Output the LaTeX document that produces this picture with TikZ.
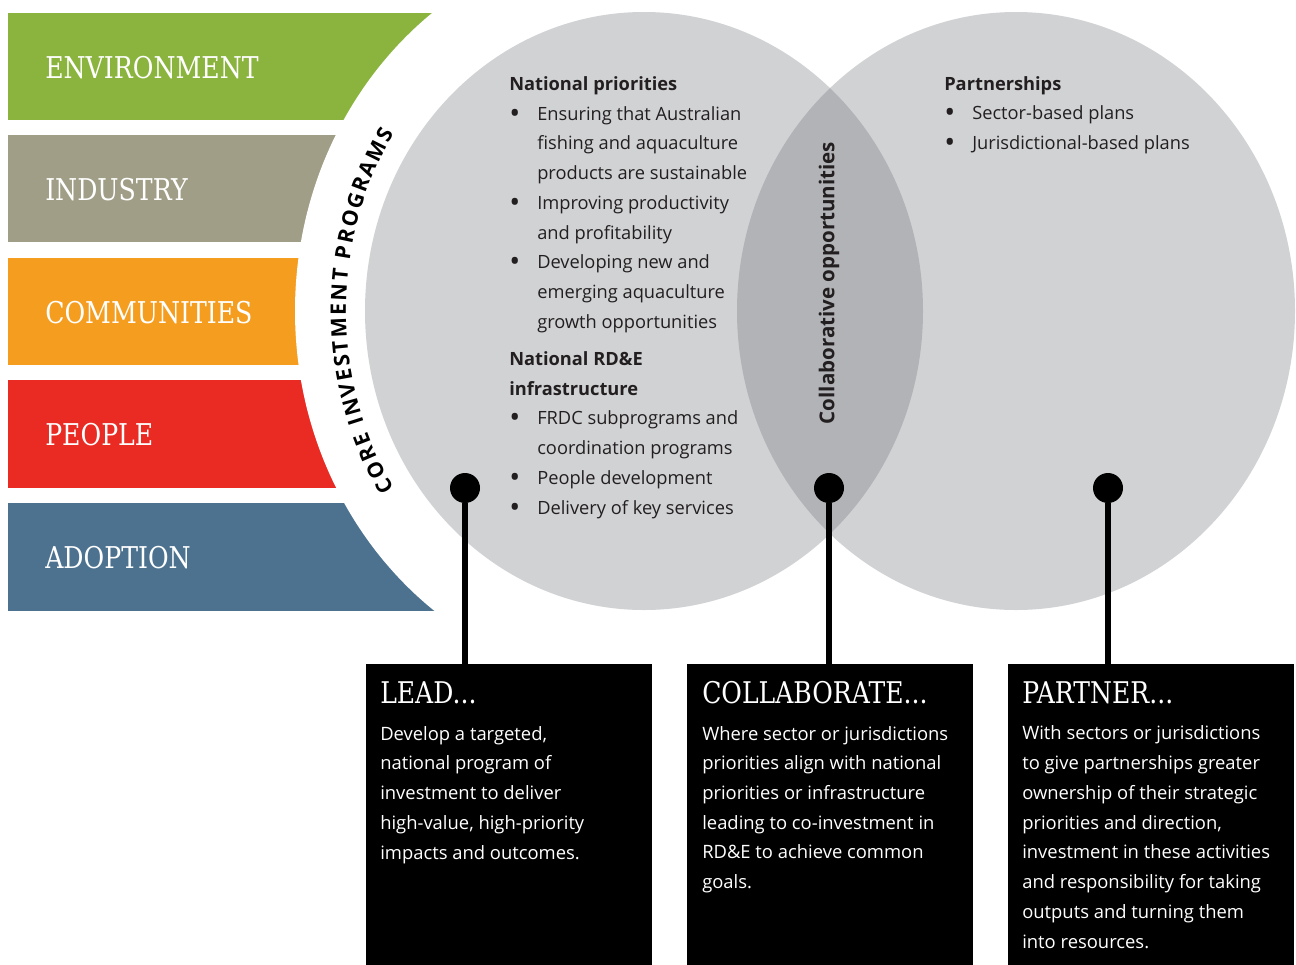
\documentclass[tikz,border=0pt]{standalone}
\usepackage{fontspec}
\setmainfont{Open Sans}
\newfontfamily\slab[FakeStretch=0.84]{DejaVu Serif}
\usetikzlibrary{decorations.text}
\definecolor{cenv}{HTML}{8BB43E}
\definecolor{cind}{HTML}{A09E86}
\definecolor{ccom}{HTML}{F59D1E}
\definecolor{cpeo}{HTML}{E92B24}
\definecolor{cado}{HTML}{4C7290}
\definecolor{cgrey}{HTML}{D1D2D4}
\definecolor{clens}{HTML}{B2B3B6}
\definecolor{ctext}{HTML}{231F20}
\newcommand\bitem{\makebox[21pt][l]{\hspace*{0pt}\raisebox{-0.32ex}{\scalebox{1.6}{\textbullet}}}}
\newcommand\bind{\hspace*{21pt}}
\newcommand\arcfont{\fontsize{16}{16}\selectfont\bfseries}
\begin{document}
\begin{tikzpicture}[x=0.75pt,y=-0.75pt,
  bandlabel/.style={anchor=west, inner sep=0pt, text=white, font=\slab\fontsize{22.5}{24}\selectfont},
  headlabel/.style={anchor=base west, inner sep=0pt, text=white, font=\slab\fontsize{22.4}{24}\selectfont},
  bodytext/.style={anchor=base west, inner sep=0pt, text=white, align=left, font=\fontsize{13.8}{22.3}\selectfont},
  circtext/.style={anchor=base west, inner sep=0pt, text=ctext, align=left, font=\fontsize{13.7}{22.3}\selectfont},
  dot/.style={circle, fill=black, minimum size=22.5pt, inner sep=0pt},
  blackbox/.style={rectangle, fill=black, anchor=north west, minimum width=214pt, minimum height=226pt, inner sep=0pt},
  conn/.style={line width=5.2pt, black}
]
\useasboundingbox (0,0) rectangle (1296,964);
\fill[white] (0,0) rectangle (1296,964);
% bands
\fill[cenv] (8,13) rectangle (470,120);
\fill[cind] (8,135) rectangle (470,242);
\fill[ccom] (8,258) rectangle (470,365);
\fill[cpeo] (8,380) rectangle (470,488);
\fill[cado] (8,503) rectangle (470,611);
\fill[white] (644,311) ellipse [x radius=349, y radius=375];
% circles
\fill[cgrey] (644,311) ellipse [x radius=279, y radius=299];
\fill[cgrey] (1016,311) ellipse [x radius=279, y radius=299];
\begin{scope}
  \clip (644,311) ellipse [x radius=279, y radius=299];
  \fill[clens] (1016,311) ellipse [x radius=279, y radius=299];
\end{scope}
% arc text
\path[decorate, decoration={text along path, text={|\arcfont|CORE INVESTMENT PROGRAMS}, text align={fit to path}}]
  (644,311) ++(147:298 and 326) arc[start angle=147, end angle=213, x radius=298, y radius=326];
% band labels
\node[bandlabel] (lenv) at (45,68) {ENVIRONMENT};
\node[bandlabel] (lind) at (45,190) {INDUSTRY};
\node[bandlabel] (lcom) at (45,313) {COMMUNITIES};
\node[bandlabel] (lpeo) at (45,435) {PEOPLE};
\node[bandlabel] (lado) at (45,558) {ADOPTION};
% circle texts (anchor = baseline of last line)
\node[circtext] (np) at (509,514) {\textbf{National priorities}\\
\bitem Ensuring that Australian\\
\bind fishing and aquaculture\\
\bind products are sustainable\\
\bitem Improving productivity\\
\bind and profitability\\
\bitem Developing new and\\
\bind emerging aquaculture\\
\bind growth opportunities\\[5.5pt]
\textbf{National RD\&E}\\
\textbf{infrastructure}\\
\bitem FRDC subprograms and\\
\bind coordination programs\\
\bitem People development\\
\bitem Delivery of key services};
\node[circtext] (pp) at (944,149.5) {\textbf{Partnerships}\\
\bitem Sector-based plans\\
\bitem Jurisdictional-based plans};
\node[rotate=90, text=ctext, inner sep=0pt, font=\fontsize{15.4}{18}\selectfont\bfseries] (collab) at (829,283) {Collaborative opportunities};
% boxes
\node[blackbox] (b1) at (366,664) {};
\node[blackbox] (b2) at (687,664) {};
\node[blackbox] (b3) at (1008,664) {};
% dots and connectors
\node[dot] (d1) at (465,488) {};
\node[dot] (d2) at (829,488) {};
\node[dot] (d3) at (1108,488) {};
\draw[conn] (d1.south) -- (d1.south |- b1.north);
\draw[conn] (d2.south) -- (d2.south |- b2.north);
\draw[conn] (d3.south) -- (d3.south |- b3.north);
% box texts
\node[headlabel] (h1) at (380,703) {LEAD...};
\node[headlabel] (h2) at (702,703) {COLLABORATE...};
\node[headlabel] (h3) at (1022,703) {PARTNER...};
\node[bodytext] (t1) at (380,859) {Develop a targeted,\\ national program of\\ investment to deliver\\ high-value, high-priority\\ impacts and outcomes.};
\node[bodytext] (t2) at (702,888.7) {Where sector or jurisdictions\\ priorities align with national\\ priorities or infrastructure\\ leading to co-investment in\\ RD\&E to achieve common\\ goals.};
\node[bodytext] (t3) at (1022,948) {With sectors or jurisdictions\\ to give partnerships greater\\ ownership of their strategic\\ priorities and direction,\\ investment in these activities\\ and responsibility for taking\\ outputs and turning them\\ into resources.};
\end{tikzpicture}
\end{document}
